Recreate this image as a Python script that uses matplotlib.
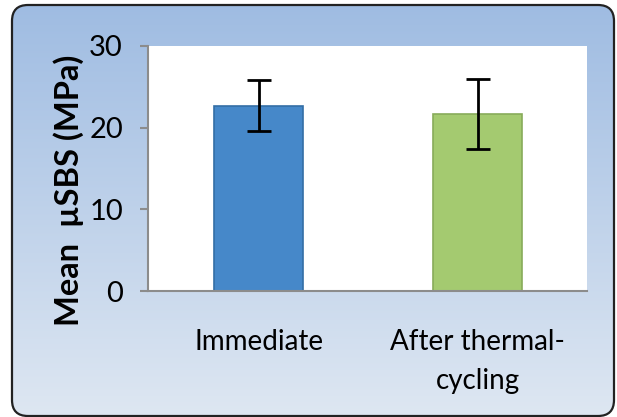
import numpy as np
import matplotlib
matplotlib.use("Agg")
import matplotlib.pyplot as plt
from matplotlib.patches import FancyBboxPatch

categories = ["Immediate", "After thermal-\ncycling"]
means = [22.7, 21.7]
errors = [3.15, 4.3]
yticks = [0, 10, 20, 30]
bar_colors = ["#4688c9", "#a4ca70"]
edge_colors = ["#336ea6", "#88ab5a"]

plt.rcParams['font.family'] = ['Lato', 'DejaVu Sans']

fig = plt.figure(figsize=(6.17, 4.17), dpi=100)
fig.patch.set_facecolor("white")

# background panel with gradient
bg = fig.add_axes([0, 0, 1, 1], zorder=-1)
bg.set_xlim(0, 617)
bg.set_ylim(417, 0)
bg.axis("off")
grad = np.linspace(0, 1, 256).reshape(-1, 1)
top = np.array([0x9f, 0xbc, 0xe2]) / 255
bot = np.array([0xde, 0xe7, 0xf2]) / 255
img = top + (bot - top) * grad[..., None]
im = bg.imshow(img, extent=[12, 614, 416, 5], aspect="auto", zorder=0)
panel = FancyBboxPatch((12, 5), 602, 411, boxstyle="round,pad=0,rounding_size=16",
                       facecolor="none", edgecolor="#222222", linewidth=1.6, zorder=2)
bg.add_patch(panel)
im.set_clip_path(panel)

ax = fig.add_axes([148/617, 1-291/417, (587-148)/617, (291-46)/417])
ax.set_facecolor("white")
x = np.arange(len(categories))
ax.bar(x, means, width=0.41, color=bar_colors, edgecolor=edge_colors, linewidth=1.2, zorder=2)
ax.errorbar(x, means, yerr=errors, fmt="none", ecolor="black", elinewidth=2,
            capsize=8.5, capthick=2, zorder=3)
ax.set_xlim(-0.505, 1.5)
ax.set_ylim(0, 30)
ax.set_yticks(yticks)
ax.set_yticklabels([str(t) for t in yticks], fontsize=21)
ax.set_xticks(x)
ax.set_xticklabels(categories, fontsize=20, linespacing=1.65)
ax.tick_params(axis="x", length=0, pad=27)
ax.tick_params(axis="y", length=6, width=1.5, color="#8c8c8c", pad=12, direction="out")
for s in ["top", "right"]:
    ax.spines[s].set_visible(False)
ax.spines["left"].set_color("#8c8c8c")
ax.spines["bottom"].set_color("#8c8c8c")
ax.spines["left"].set_linewidth(1.5)
ax.spines["bottom"].set_linewidth(1.5)
ax.set_ylabel("Mean  µSBS (MPa)", fontsize=23.5, fontweight="bold")
ax.yaxis.set_label_coords((84-148)/439, (291-190)/245)

fig.savefig("out.png", dpi=100)
